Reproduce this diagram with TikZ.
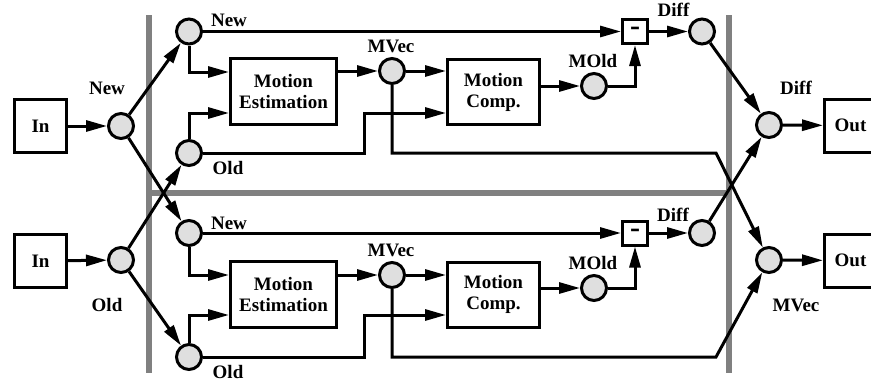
\documentclass[tikz,border=0pt]{standalone}
\usepackage{fontspec}
\setmainfont{Liberation Serif}
\usetikzlibrary{arrows.meta}
\begin{document}
\begin{tikzpicture}[x=1pt,y=-1pt,
  line width=3pt,
  lbl/.style={font=\bfseries\fontsize{19}{21}\selectfont, inner sep=0pt, align=center},
  circ/.style={circle, draw, line width=3pt, fill=gray!25, minimum size=25pt, inner sep=0pt},
  box/.style={draw, line width=3pt, fill=white, inner sep=0pt, font=\bfseries\fontsize{19}{21}\selectfont, align=center},
  minusbox/.style={box, minimum width=25pt, minimum height=24pt, font=\bfseries\fontsize{30}{30}\selectfont},
  arr/.style={-{Triangle[length=21pt,width=11pt]}, line width=3pt},
  bar/.style={draw=gray, line width=6pt}]
\clip (0,0) rectangle (871,381);
\fill[white] (0,0) rectangle (871,381);
% gray separators
\draw[bar] (149,15) -- (149,373);
\draw[bar] (729,15) -- (729,373);
\draw[bar] (152,193) -- (727,193);
% nodes
\node[box, minimum width=52pt, minimum height=53pt] (inT) at (40.5,126) {In};
\node[box, minimum width=52pt, minimum height=53pt] (inB) at (40.5,261) {In};
\node[circ] (spT) at (121,126) {};
\node[circ] (spB) at (121,260) {};
\node[circ] (newT) at (189,31.5) {};
\node[circ] (oldT) at (189,153) {};
\node[circ] (newB) at (189,233) {};
\node[circ] (oldB) at (189,357) {};
\node[box, minimum width=106pt, minimum height=66pt] (meT) at (283.5,91.5) {Motion\\Estimation};
\node[box, minimum width=106pt, minimum height=66pt] (meB) at (283.5,294.5) {Motion\\Estimation};
\node[circ] (mvT) at (392,71) {};
\node[circ] (mvB) at (392,275) {};
\node[box, minimum width=92pt, minimum height=65pt] (mcT) at (493.5,92) {Motion\\Comp.};
\node[box, minimum width=92pt, minimum height=65pt] (mcB) at (493.5,294.5) {Motion\\Comp.};
\node[circ] (moT) at (594,86) {};
\node[circ] (moB) at (594,288) {};
\node[minusbox] (miT) at (635,31.5) {-};
\node[minusbox] (miB) at (635,233) {-};
\node[circ] (dfT) at (702,31.5) {};
\node[circ] (dfB) at (702,233) {};
\node[circ] (oT) at (769,125) {};
\node[circ] (oB) at (769,260) {};
\node[box, minimum width=52pt, minimum height=53pt] (outT) at (850.5,125.5) {Out};
\node[box, minimum width=52pt, minimum height=53pt] (outB) at (850.5,260.5) {Out};
% labels
\node[lbl] (lNewT) at (229,20) {New};
\node[lbl] (lOldT) at (228,168) {Old};
\node[lbl] (lNewS) at (107,88) {New};
\node[lbl] (lMvT) at (391,46) {MVec};
\node[lbl] (lMoT) at (593,61) {MOld};
\node[lbl] (lDfT) at (673.5,10) {Diff};
\node[lbl] (lDfO) at (796,88) {Diff};
\node[lbl] (lNewB) at (229,223) {New};
\node[lbl] (lOldB) at (228,372) {Old};
\node[lbl] (lOldS) at (107,305) {Old};
\node[lbl] (lMvB) at (391,250) {MVec};
\node[lbl] (lMoB) at (593,263) {MOld};
\node[lbl] (lDfB) at (673,215) {Diff};
\node[lbl] (lMvO) at (796,305) {MVec};
% bend coordinates
\coordinate (cOT) at (364,153);
\coordinate (cOB) at (364,357);
\coordinate (cMT) at (716,153);
\coordinate (cMB) at (716,357);
% connectors: input split
\draw[arr] (inT) -- (spT);
\draw[arr] (inB) -- (spB);
\draw[arr] (spT) -- (newT);
\draw[arr] (spT) -- (newB);
\draw[arr] (spB) -- (oldT);
\draw[arr] (spB) -- (oldB);
% top pipeline
\draw[arr] (newT) |- ([yshift=19.5pt]meT.west);
\draw[arr] (oldT) |- ([yshift=-21.5pt]meT.west);
\draw[arr] (meT.east |- mvT) -- (mvT);
\draw[arr] (mvT) -- (mcT.west |- mvT);
\draw[arr] (oldT) -- (cOT) |- ([yshift=-21pt]mcT.west);
\draw[arr] (mvT) |- (cMT) -- (oB);
\draw[arr] (mcT.east |- moT) -- (moT);
\draw[arr] (moT) -| (miT);
\draw[arr] (newT) -- (miT);
\draw[arr] (miT) -- (dfT);
\draw[arr] (dfT) -- (oT);
% bottom pipeline
\draw[arr] (newB) |- ([yshift=19.5pt]meB.west);
\draw[arr] (oldB) |- ([yshift=-20.5pt]meB.west);
\draw[arr] (meB.east |- mvB) -- (mvB);
\draw[arr] (mvB) -- (mcB.west |- mvB);
\draw[arr] (oldB) -- (cOB) |- ([yshift=-20.5pt]mcB.west);
\draw[arr] (mvB) |- (cMB) -- (oB);
\draw[arr] (mcB.east |- moB) -- (moB);
\draw[arr] (moB) -| (miB);
\draw[arr] (newB) -- (miB);
\draw[arr] (miB) -- (dfB);
\draw[arr] (dfB) -- (oT);
% outputs
\draw[arr] (oT) -- (outT);
\draw[arr] (oB) -- (outB);
\end{tikzpicture}
\end{document}
